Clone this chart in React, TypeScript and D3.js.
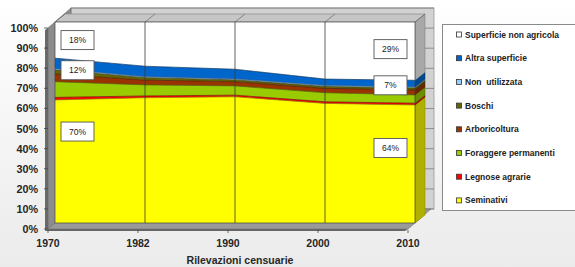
import React from "react";
import * as d3 from "d3";

const years = ["1970", "1982", "1990", "2000", "2010"];
const seriesKeys = ["sem", "leg", "for", "arb", "bos", "nut", "alt", "nag"];
const seriesNames = [
  "Seminativi",
  "Legnose agrarie",
  "Foraggere permanenti",
  "Arboricoltura",
  "Boschi",
  "Non  utilizzata",
  "Altra superficie",
  "Superficie non agricola",
];
const seminativi = [61.2, 62.3, 62.8, 59.5, 58.7];
const legnose = [1.3, 0.9, 0.8, 0.8, 0.9];
const foraggere = [7.8, 5.5, 4.6, 4.5, 4.1];
const arboricoltura = [3.8, 2.4, 2.1, 2.2, 2.5];
const boschi = [2.0, 1.2, 0.9, 0.9, 1.0];
const nonUtilizzata = [0.6, 0.5, 0.5, 0.5, 0.5];
const altraSuperficie = [5.3, 5.2, 4.8, 3.2, 3.3];
const nonAgricola = [18.0, 22.0, 23.5, 28.4, 29.0];

const fills = ["#ffff00", "#ff0000", "#99cc00", "#993300", "#666600", "#99ccff", "#0066cc", "#ffffff"];
const sides = ["#b0b000", "#a00000", "#6b8f00", "#6b2400", "#474700", "#6b8fb3", "#00478f", "#a8a8a8"];
const edges = ["#8a8a00", "#800000", "#4d6600", "#4d1a00", "#333300", "#4d6680", "#003366", "#777777"];

const yTicks = [0, 10, 20, 30, 40, 50, 60, 70, 80, 90, 100];

const labelsLeft = ["18%", "12%", "70%"];
const labelsLeftAt = [91, 76, 45.5];
const labelsRight = ["29%", "7%", "64%"];
const labelsRightAt = [86.5, 68.5, 37.3];

const W = 575;
const H = 267;
const FONT = "'Liberation Sans', Arial, sans-serif";

export default function App() {
  const rows = years.map((y, i) => ({
    year: y,
    sem: seminativi[i],
    leg: legnose[i],
    for: foraggere[i],
    arb: arboricoltura[i],
    bos: boschi[i],
    nut: nonUtilizzata[i],
    alt: altraSuperficie[i],
    nag: nonAgricola[i],
  }));
  const stacked = d3.stack<any>().keys(seriesKeys)(rows);

  // front (axis) plane
  const x0 = d3.scalePoint<string>().domain(years).range([48, 408]);
  const y0 = d3.scaleLinear().domain([0, 100]).range([229, 28]);
  // offsets for the 3D planes
  const F = { dx: 7, dy: -6 }; // slab front
  const D = { dx: 10, dy: -8 }; // slab depth
  const BK = { dx: 23, dy: -20 }; // back wall

  const fx = (y: string) => (x0(y) as number) + F.dx;
  const fy = (v: number) => y0(v) + F.dy;

  const area = d3
    .area<any>()
    .x((d: any) => fx(d.data.year))
    .y0((d: any) => fy(d[0]))
    .y1((d: any) => fy(d[1]));
  const topLine = d3
    .line<any>()
    .x((d: any) => fx(d.data.year))
    .y((d: any) => fy(d[1]));

  const xFirst = x0(years[0]) as number;
  const xLast = x0(years[years.length - 1]) as number;
  const poly = (pts: number[][]) => pts.map((p) => p.join(",")).join(" ");

  const leftWall = [
    [xFirst, y0(0)],
    [xFirst, y0(100)],
    [xFirst + BK.dx, y0(100) + BK.dy],
    [xFirst + BK.dx, y0(0) + BK.dy],
  ];
  const floor = [
    [xFirst, y0(0)],
    [xLast, y0(0)],
    [xLast + BK.dx, y0(0) + BK.dy],
    [xFirst + BK.dx, y0(0) + BK.dy],
  ];

  const slabRight = fx(years[years.length - 1]);
  const slabLeft = fx(years[0]);
  const last = years.length - 1;

  return (
    <svg
      width={W}
      height={H}
      style={{ position: "absolute", left: 0, top: 0, fontFamily: FONT }}
    >
      <defs>
        <linearGradient id="bg" x1="0" y1="0" x2="0" y2="1">
          <stop offset="0" stopColor="#ffffff" />
          <stop offset="1" stopColor="#ebebeb" />
        </linearGradient>
      </defs>
      <rect x={0} y={0} width={W} height={H} fill="url(#bg)" />

      {/* back wall */}
      <rect
        x={xFirst + BK.dx}
        y={y0(100) + BK.dy}
        width={xLast - xFirst + 3}
        height={y0(0) - y0(100)}
        fill="#d2d2d2"
        stroke="#9a9a9a"
        strokeWidth={0.8}
      />
      {yTicks.map((t) => (
        <line
          key={"bg" + t}
          x1={xFirst + BK.dx}
          x2={xLast + BK.dx + 3}
          y1={y0(t) + BK.dy}
          y2={y0(t) + BK.dy}
          stroke="#7a7a7a"
          strokeWidth={0.8}
        />
      ))}
      {/* left wall */}
      <polygon
        points={poly([
          [xFirst - 3, y0(0) + 2],
          [xFirst - 3, y0(100) + 2],
          [xFirst, y0(100)],
          [xFirst, y0(0)],
        ])}
        fill="#6a6a6a"
      />
      <polygon points={poly(leftWall)} fill="#8c8c8c" stroke="#666" strokeWidth={0.6} />
      {/* floor */}
      <polygon
        points={poly([
          [xFirst - 3, y0(0) + 2],
          [xFirst, y0(0)],
          [xLast, y0(0)],
          [xLast - 3, y0(0) + 2],
        ])}
        fill="#666"
      />
      <polygon points={poly(floor)} fill="#9a9a9a" stroke="#6e6e6e" strokeWidth={0.6} />

      {/* slab right faces */}
      {stacked.map((s: any, i: number) => {
        const d = s[last];
        const ya = fy(d[0]);
        const yb = fy(d[1]);
        return (
          <polygon
            key={"side" + i}
            points={poly([
              [slabRight, ya],
              [slabRight, yb],
              [slabRight + D.dx, yb + D.dy],
              [slabRight + D.dx, ya + D.dy],
            ])}
            fill={sides[i]}
            stroke={edges[i]}
            strokeWidth={0.5}
          />
        );
      })}
      {/* slab top face */}
      <polygon
        points={poly([
          [slabLeft, fy(100)],
          [slabRight, fy(100)],
          [slabRight + D.dx, fy(100) + D.dy],
          [slabLeft + D.dx, fy(100) + D.dy],
        ])}
        fill="#c6c6c6"
        stroke="#8a8a8a"
        strokeWidth={0.7}
      />
      {years.map((y) => (
        <line
          key={"td" + y}
          x1={fx(y)}
          y1={fy(100)}
          x2={fx(y) + D.dx}
          y2={fy(100) + D.dy}
          stroke="#6a6a6a"
          strokeWidth={0.7}
        />
      ))}

      {/* slab front faces */}
      {stacked.map((s: any, i: number) => (
        <path key={"a" + i} d={area(s) as string} fill={fills[i]} />
      ))}
      {stacked.map((s: any, i: number) =>
        i < stacked.length - 1 ? (
          <path
            key={"l" + i}
            d={topLine(s) as string}
            fill="none"
            stroke={edges[i]}
            strokeWidth={0.7}
          />
        ) : null
      )}
      {/* vertical grid lines on the front */}
      {years.slice(1, -1).map((y) => (
        <line
          key={"vg" + y}
          x1={fx(y)}
          x2={fx(y)}
          y1={fy(100)}
          y2={fy(0)}
          stroke="#3a3a3a"
          strokeWidth={0.8}
        />
      ))}
      <rect
        x={slabLeft}
        y={fy(100)}
        width={slabRight - slabLeft}
        height={fy(0) - fy(100)}
        fill="none"
        stroke="#444"
        strokeWidth={0.7}
      />

      {/* y axis */}
      {yTicks.map((t) => (
        <g key={"yt" + t}>
          <line x1={xFirst - 4} x2={xFirst} y1={y0(t)} y2={y0(t)} stroke="#444" strokeWidth={0.8} />
          <text
            x={38}
            y={y0(t)}
            textAnchor="end"
            dominantBaseline="central"
            fontSize={10.8}
            fontWeight="bold"
            fill="#262626"
          >
            {t + "%"}
          </text>
        </g>
      ))}
      {/* x axis */}
      {years.map((y) => (
        <g key={"xt" + y}>
          <line
            x1={x0(y) as number}
            x2={x0(y) as number}
            y1={y0(0) + 1}
            y2={y0(0) + 4}
            stroke="#444"
            strokeWidth={0.8}
          />
          <text
            x={x0(y) as number}
            y={247}
            textAnchor="middle"
            fontSize={10.5}
            fontWeight="bold"
            fill="#262626"
          >
            {y}
          </text>
        </g>
      ))}
      <text x={240} y={264} textAnchor="middle" fontSize={10.5} fontWeight="bold" fill="#262626">
        Rilevazioni censuarie
      </text>

      {/* data labels */}
      {labelsLeft.map((l, i) => (
        <g key={"ll" + i}>
          <rect
            x={slabLeft + 6}
            y={fy(labelsLeftAt[i]) - 9.5}
            width={33}
            height={19}
            fill="#fff"
            stroke="#555"
            strokeWidth={0.9}
          />
          <text
            x={slabLeft + 22.5}
            y={fy(labelsLeftAt[i])}
            textAnchor="middle"
            dominantBaseline="central"
            fontSize={8.5}
            fill="#222"
          >
            {l}
          </text>
        </g>
      ))}
      {labelsRight.map((l, i) => (
        <g key={"lr" + i}>
          <rect
            x={slabRight - 41}
            y={fy(labelsRightAt[i]) - 9.5}
            width={33}
            height={19}
            fill="#fff"
            stroke="#555"
            strokeWidth={0.9}
          />
          <text
            x={slabRight - 24.5}
            y={fy(labelsRightAt[i])}
            textAnchor="middle"
            dominantBaseline="central"
            fontSize={8.5}
            fill="#222"
          >
            {l}
          </text>
        </g>
      ))}

      {/* legend */}
      <rect x={442.5} y={24.5} width={140} height={186} fill="#fff" stroke="#8a8a8a" strokeWidth={1} />
      {seriesNames
        .map((n, i) => ({ n, i }))
        .reverse()
        .map(({ n, i }, k) => {
          const cy = 34.5 + k * 23.7;
          return (
            <g key={"lg" + i}>
              <rect x={456.5} y={cy - 2.5} width={5} height={5} fill={fills[i]} stroke="#333" strokeWidth={0.8} />
              <text
                x={465}
                y={cy}
                dominantBaseline="central"
                fontSize={8.5}
                fontWeight="bold"
                fill="#222"
                style={{ whiteSpace: "pre" }}
              >
                {n}
              </text>
            </g>
          );
        })}
    </svg>
  );
}
